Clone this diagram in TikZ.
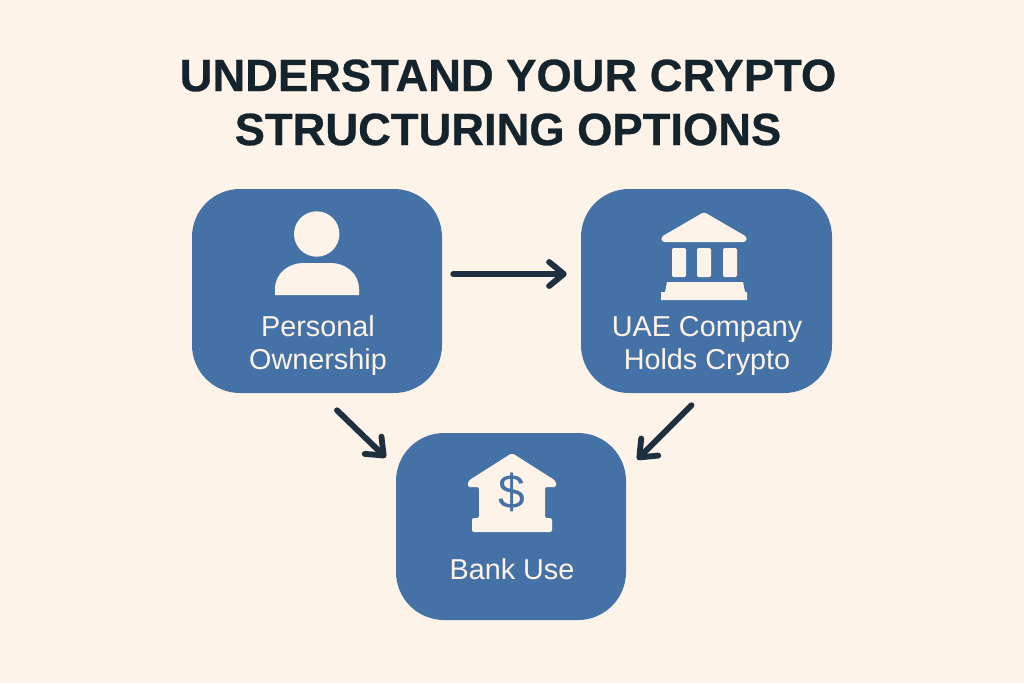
\documentclass[tikz,border=0pt]{standalone}
\usepackage{fontspec}
\setmainfont{Liberation Sans}
\newfontfamily\titlefont[FakeBold=0.6]{Liberation Sans Bold}
\usetikzlibrary{arrows.meta}
\definecolor{bgcream}{HTML}{FDF3E9}
\definecolor{boxblue}{HTML}{4572A6}
\definecolor{inkdark}{HTML}{1E2F40}
\definecolor{titleink}{HTML}{15232D}
\tikzset{
  x=0.75pt,y=-0.75pt,
  card/.style={fill=boxblue,draw=none,rounded corners=36pt,inner sep=0pt,minimum width=#1},
  cardlabel/.style={text=bgcream,font=\fontsize{21.6pt}{24.7pt}\selectfont,align=center,inner sep=0pt},
  titleline/.style={text=titleink,font=\titlefont\fontsize{34pt}{40.5pt}\selectfont,align=center,inner sep=0pt},
  iconfill/.style={fill=bgcream,draw=none},
  conn/.style={draw=inkdark,line width=4.4pt,line cap=round,-{Straight Barb[length=11pt,width=18pt,round,line width=4.4pt]}}
}
\begin{document}
\begin{tikzpicture}
\useasboundingbox (0,0) rectangle (1024,683);
\fill[bgcream] (0,0) rectangle (1024,683);
\node[titleline] (title) at (508,102.5) {UNDERSTAND YOUR CRYPTO\\STRUCTURING OPTIONS};
\node[card=187.5pt,minimum height=153pt] (a) at (317,291) {};
\node[card=188.25pt,minimum height=153pt] (b) at (706.5,291) {};
\node[card=172.5pt,minimum height=140.25pt] (c) at (511,526.5) {};
\node[cardlabel] (la) at (318,346) {Personal\\Ownership};
\node[cardlabel] (lb) at (707,346) {UAE Company\\Holds Crypto};
\node[cardlabel] (lc) at (512,569) {Bank Use};
% person icon
\fill[iconfill] (316.7,234) circle (22.7);
\fill[iconfill] (275,295) -- (275,289) .. controls (275,273) and (289,263) .. (303,263) -- (331,263) .. controls (345,263) and (359,273) .. (359,289) -- (359,295) -- cycle;
% institution icon
\fill[iconfill,rounded corners=2pt] (704,212) -- (747,237) -- (746,242) -- (662,242) -- (661,237) -- cycle;
\fill[iconfill,rounded corners=1pt] (672,248) rectangle (686,277);
\fill[iconfill,rounded corners=1pt] (697,248) rectangle (711,277);
\fill[iconfill,rounded corners=1pt] (723,248) rectangle (737,277);
\fill[iconfill] (667,282) -- (743,282) -- (745,292) -- (747,292) -- (747,300) -- (661,300) -- (661,292) -- (665,292) -- cycle;
% bank icon
\fill[iconfill,rounded corners=1.5pt] (512,453) -- (556,481) -- (556,487) -- (545,487) -- (545,518) -- (552,518) -- (552,532) -- (472,532) -- (472,518) -- (479,518) -- (479,487) -- (468,487) -- (468,481) -- cycle;
\node[text=boxblue,font=\fontsize{36pt}{36pt}\selectfont,inner sep=0pt] (dollar) at (512,492) {\$};
% connectors
\draw[conn] ([shift={(11,-17)}]a.east) -- ([shift={(-14,-17)}]b.west);
\draw[conn] ([shift={(20,17)}]a.south) -- ([shift={(-10,-69)}]c.west);
\draw[conn] ([shift={(-15,12)}]b.south) -- ([shift={(11,-67)}]c.east);
\end{tikzpicture}
\end{document}
